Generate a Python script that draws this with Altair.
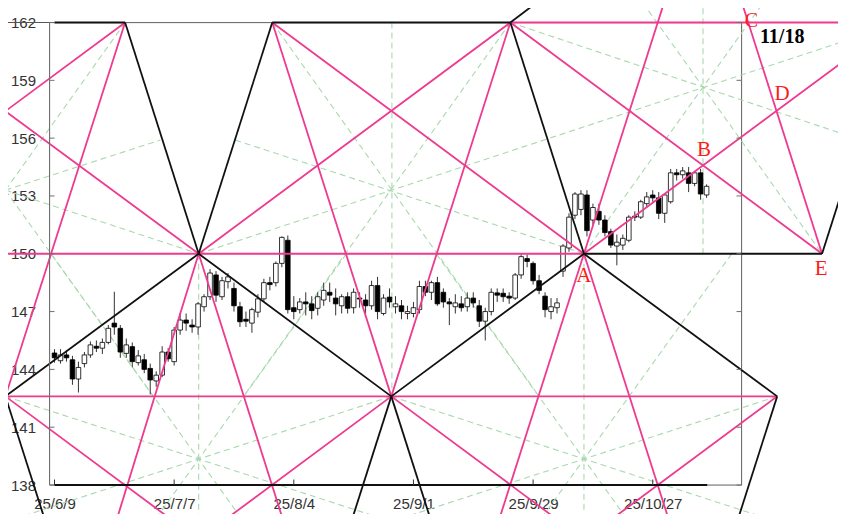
import altair as alt
import pandas as pd

# ---------------- candle data (daily, index 0 = 25/6/9, one step per trading day) ----------------
opens = [144.85, 144.45, 144.75, 144.5, 143.5, 144.3, 144.75, 145.2, 145.1, 145.4,
         146.4, 146.13, 144.83, 145.18, 144.35, 144.5, 144.05, 143.4, 143.7, 144.9,
         144.4, 146.04, 146.56, 146.3, 146.2, 147.25, 147.77, 148.9, 147.77, 148.55,
         148.2, 147.25, 146.6, 146.4, 146.97, 147.66, 148.5, 148.5, 149.5, 150.7,
         147.2, 147.1, 147.5, 147.4, 147.17, 147.6, 148.0, 147.7, 147.3, 147.77,
         147.2, 147.7, 147.6, 147.3, 148.35, 146.9, 147.75, 147.25, 147.3, 146.9,
         146.9, 147.1, 148.3, 148.0, 148.5, 148.0, 147.5, 147.25, 147.4, 147.25,
         147.7, 147.3, 146.5, 147.0, 147.97, 147.95, 147.8, 147.7, 148.9, 149.75,
         149.5, 148.6, 147.8, 147.0, 147.2, 149.1, 150.3, 152.0, 152.3, 153.05,
         151.75, 152.2, 151.75, 151.15, 150.4, 150.45, 150.7, 151.95, 151.9, 152.6,
         153.05, 152.9, 152.1, 152.7, 154.2, 154.1, 154.2, 153.65, 154.2, 153.05]
highs = [145.05, 145.05, 145.0, 144.7, 144.4, 144.9, 145.45, 145.5, 145.6, 146.3,
         148.03, 146.3, 145.6, 145.4, 145.0, 144.8, 144.3, 143.9, 145.2, 145.1,
         146.2, 146.9, 146.9, 146.6, 147.5, 147.9, 149.2, 149.1, 148.8, 149.0,
         148.5, 147.5, 147.0, 147.2, 147.9, 148.7, 148.8, 149.6, 150.9, 150.95,
         147.8, 147.7, 148.0, 147.8, 148.0, 148.5, 148.5, 148.2, 147.9, 148.0,
         148.2, 148.0, 147.9, 148.6, 148.8, 147.9, 148.2, 147.8, 147.6, 147.3,
         147.5, 148.6, 148.6, 148.6, 148.8, 148.2, 147.7, 147.9, 147.8, 148.0,
         148.0, 147.6, 147.2, 148.2, 148.2, 148.2, 148.0, 149.0, 150.0, 149.95,
         149.6, 148.9, 148.0, 147.7, 147.7, 150.5, 152.1, 153.2, 153.3, 153.3,
         152.6, 152.6, 152.0, 151.3, 151.0, 151.0, 152.0, 152.2, 152.8, 153.2,
         153.3, 153.2, 153.1, 154.4, 154.4, 154.5, 154.5, 154.3, 154.4, 153.6]
lows = [144.35, 144.3, 144.4, 143.2, 142.8, 144.1, 144.6, 144.9, 144.8, 145.3,
        145.8, 144.6, 144.6, 144.1, 144.2, 143.8, 142.7, 143.1, 143.6, 144.4,
        144.2, 145.8, 146.0, 145.9, 145.8, 147.0, 147.6, 147.5, 147.6, 148.2,
        147.0, 146.2, 146.2, 145.9, 146.7, 147.5, 148.1, 148.3, 149.3, 146.9,
        146.6, 146.9, 146.8, 146.6, 146.8, 147.3, 147.5, 146.8, 146.9, 146.9,
        146.9, 147.2, 146.9, 147.1, 146.6, 146.8, 147.2, 146.9, 146.6, 146.6,
        146.7, 146.9, 147.8, 147.6, 147.3, 147.2, 146.3, 146.9, 147.0, 147.0,
        147.2, 146.2, 145.5, 146.8, 147.5, 147.5, 147.4, 147.6, 148.7, 149.3,
        148.4, 147.9, 146.7, 146.6, 146.9, 148.8, 150.1, 151.8, 152.0, 150.9,
        151.5, 151.5, 150.9, 150.3, 149.4, 150.2, 150.6, 151.7, 151.8, 152.4,
        152.7, 151.8, 151.6, 152.6, 153.8, 153.9, 153.2, 153.5, 152.8, 152.9]
closes = [144.6, 144.75, 144.6, 143.5, 144.1, 144.75, 145.27, 145.1, 145.4, 146.13,
          146.2, 144.9, 145.27, 144.4, 144.7, 144.0, 143.45, 143.7, 144.9, 144.55,
          146.04, 146.56, 146.4, 146.2, 147.4, 147.77, 149.0, 147.85, 148.6, 148.8,
          147.3, 146.47, 146.5, 147.1, 147.66, 148.5, 148.4, 149.5, 150.85, 147.1,
          147.0, 147.5, 147.4, 147.05, 147.77, 148.1, 147.85, 147.4, 147.77, 147.17,
          148.0, 147.65, 147.3, 148.35, 147.0, 147.7, 147.5, 147.4, 147.0, 147.0,
          147.2, 148.3, 148.0, 148.5, 147.4, 147.5, 147.4, 147.45, 147.2, 147.7,
          147.45, 146.5, 147.0, 148.0, 147.85, 147.77, 147.7, 148.9, 149.85, 149.6,
          148.6, 148.1, 147.1, 147.25, 147.45, 150.4, 151.9, 153.1, 153.1, 151.2,
          152.4, 151.75, 151.1, 150.45, 150.6, 150.8, 151.9, 151.9, 152.7, 152.95,
          152.9, 152.1, 153.05, 154.2, 154.1, 154.3, 153.65, 154.2, 153.1, 153.5]

price_ticks = [138, 141, 144, 147, 150, 153, 156, 159, 162]
date_tick_days = [0, 20, 40, 60, 80, 100]
date_tick_labels = ["25/6/9", "25/7/7", "25/8/4", "25/9/1", "25/9/29", "25/10/27"]
x_domain = [0, 114]
y_domain = [138, 162]

# ---------------- Gann overlay, segments (day, price, day, price) ----------------
black_segments = [
    (-8.2, 142.6, 24.1, 150.0), (24.1, 150.0, 56.3, 142.6), (56.3, 142.6, 88.5, 150.0),
    (88.5, 150.0, 120.8, 142.6), (11.8, 162.0, 24.1, 150.0), (24.1, 150.0, 36.4, 162.0),
    (76.2, 162.0, 88.5, 150.0), (76.2, 162.0, 86.0, 164.3), (88.5, 150.0, 128.3, 150.0),
    (128.3, 150.0, 136.0, 157.5), (56.3, 142.6, 49.0, 135.5), (56.3, 142.6, 63.6, 135.5),
    (-8.2, 142.6, -0.9, 135.5), (120.8, 142.6, 113.5, 135.5), (0.0, 162.0, 11.8, 162.0),
    (36.4, 162.0, 76.2, 162.0), (0.0, 138.0, 109.1, 138.0),
]
thin_segments = [(-9.0, 162.0, 0.0, 162.0)]
pink_segments = [
    (76.2, 162.0, 140.0, 162.0), (-9.0, 150.0, 88.5, 150.0), (-8.2, 142.6, 120.8, 142.6),
    (-8.2, 157.4, 11.8, 162.0), (-8.2, 157.4, 24.1, 150.0), (11.8, 162.0, -8.2, 142.6),
    (24.1, 150.0, 9.7, 135.5), (24.1, 150.0, 38.9, 135.5), (24.1, 150.0, 76.2, 162.0),
    (36.4, 162.0, 88.5, 150.0), (36.4, 162.0, 56.3, 142.6), (76.2, 162.0, 56.3, 142.6),
    (76.2, 162.0, 128.3, 150.0), (88.5, 150.0, 103.2, 164.3), (88.5, 150.0, 140.0, 161.86),
    (128.3, 150.0, 113.6, 164.3), (88.5, 150.0, 73.6, 135.5), (88.5, 150.0, 103.4, 135.5),
    (-8.2, 142.6, 22.6, 135.5), (56.3, 142.6, 25.5, 135.5), (56.3, 142.6, 87.1, 135.5),
    (120.8, 142.6, 90.0, 135.5),
]
green_segments = [
    (-8.2, 162.0, -8.2, 142.6), (-8.2, 153.3, 11.8, 162.0), (-8.2, 153.3, 16.5, 142.6),
    (-8.2, 153.3, 17.7, 155.9), (-8.2, 153.3, 24.1, 150.0),
    (56.4, 162.0, 56.4, 142.6), (36.4, 162.0, 81.0, 142.6), (76.2, 162.0, 31.6, 142.6),
    (30.2, 155.9, 88.5, 150.0), (24.1, 150.0, 140.0, 161.85),
    (108.4, 164.3, 108.4, 150.0), (95.4, 164.3, 128.3, 150.0), (88.5, 150.0, 121.4, 164.3),
    (76.2, 162.0, 140.0, 155.36),
    (24.1, 150.0, 24.1, 135.5), (-8.2, 142.6, 62.3, 135.5), (56.3, 142.6, -14.0, 135.5),
    (-0.6, 150.0, 33.0, 135.5), (48.8, 150.0, 15.2, 135.5),
    (88.5, 150.0, 88.5, 135.5), (56.3, 142.6, 126.7, 135.5), (120.8, 142.6, 50.3, 135.5),
    (63.8, 150.0, 97.4, 135.5), (113.2, 150.0, 79.6, 135.5),
]

point_labels = ["A", "B", "C", "D", "E"]
point_days = [88.5, 108.3, 116.0, 120.7, 128.3]
point_prices = [150.0, 154.6, 162.0, 157.36, 150.0]
date_note = "11/18"

PINK = "#EE3A8F"
RED = "#FF1A1A"
FRAME = "#707070"

xs = alt.Scale(domain=x_domain, nice=False, zero=False)
ys = alt.Scale(domain=y_domain, nice=False, zero=False)

label_expr = "[" + ",".join("'%s'" % s for s in date_tick_labels) + "][indexof([" + \
    ",".join(str(d) for d in date_tick_days) + "], datum.value)]"
x_axis = alt.Axis(values=date_tick_days, labelExpr=label_expr, title=None, ticks=False,
                  domain=False, grid=False, labelPadding=11, labelFontSize=15,
                  labelFont="Liberation Sans", labelColor="#333333", labelFlush=False)
y_axis = alt.Axis(values=price_ticks, title=None, ticks=False, domain=False, grid=False,
                  labelPadding=14, labelFontSize=15, labelFont="Liberation Sans",
                  labelColor="#333333")

candles = pd.DataFrame({"day": list(range(len(closes))), "open": opens, "high": highs,
                        "low": lows, "close": closes})
candles["dir"] = ["up" if c >= o else "down" for o, c in zip(opens, closes)]

wicks = alt.Chart(candles).mark_rule(color="#333333", strokeWidth=1).encode(
    x=alt.X("day:Q", scale=xs, axis=x_axis),
    y=alt.Y("low:Q", scale=ys, axis=y_axis),
    y2="high:Q")
bodies = alt.Chart(candles).mark_bar(size=4.6, stroke="#000000", strokeWidth=0.8).encode(
    x=alt.X("day:Q", scale=xs, axis=x_axis),
    y=alt.Y("open:Q", scale=ys, axis=y_axis),
    y2="close:Q",
    fill=alt.Fill("dir:N", scale=alt.Scale(domain=["up", "down"], range=["#ffffff", "#000000"]),
                  legend=None))


def seg_layer(segs, color, width, dash=None):
    df = pd.DataFrame(segs, columns=["t1", "p1", "t2", "p2"])
    kw = dict(color=color, strokeWidth=width, clip=False)
    if dash:
        kw["strokeDash"] = dash
    return alt.Chart(df).mark_rule(**kw).encode(
        x=alt.X("t1:Q", scale=xs, axis=x_axis), y=alt.Y("p1:Q", scale=ys, axis=y_axis),
        x2="t2:Q", y2="p2:Q")


green = seg_layer(green_segments, "#A9D9AE", 1.1, [6, 4])
pink = seg_layer(pink_segments, PINK, 1.8)
black = seg_layer(black_segments, "#111111", 1.8)
thin = seg_layer(thin_segments, "#555555", 1)

# plot frame (left axis line, right and top border)
frame_left = alt.Chart(pd.DataFrame({"v": [0]})).mark_rule(color=FRAME, strokeWidth=1).encode(
    x=alt.value(0), y=alt.value(0), y2=alt.value(462.5))
frame_right = alt.Chart(pd.DataFrame({"v": [0]})).mark_rule(color=FRAME, strokeWidth=1).encode(
    x=alt.value(692), y=alt.value(0), y2=alt.value(462.5))
frame_top = alt.Chart(pd.DataFrame({"v": [0]})).mark_rule(color=FRAME, strokeWidth=1).encode(
    x=alt.value(0), x2=alt.value(692), y=alt.value(0))
frame_bottom = alt.Chart(pd.DataFrame({"v": [0]})).mark_rule(color=FRAME, strokeWidth=1).encode(
    x=alt.value(0), x2=alt.value(692), y=alt.value(462.5))

ptick_df = pd.DataFrame({"p": price_ticks})
dtick_df = pd.DataFrame({"d": date_tick_days})
left_ticks = alt.Chart(ptick_df).mark_rule(color=FRAME, strokeWidth=1).encode(
    y=alt.Y("p:Q", scale=ys, axis=y_axis), x=alt.value(0), x2=alt.value(5))
right_ticks = alt.Chart(ptick_df).mark_rule(color=FRAME, strokeWidth=1).encode(
    y=alt.Y("p:Q", scale=ys, axis=y_axis), x=alt.value(687), x2=alt.value(692))
bottom_ticks = alt.Chart(dtick_df).mark_rule(color="#333333", strokeWidth=1).encode(
    x=alt.X("d:Q", scale=xs, axis=x_axis), y=alt.value(462.5), y2=alt.value(457))

pts = pd.DataFrame({"lab": point_labels, "t": point_days, "p": point_prices})
label_offsets = {"A": (0, 22, 21), "B": (1.5, -15, 21), "C": (3, -2, 20),
                 "D": (5.5, -18, 21), "E": (-1, 15, 21)}
text_layers = []
for lab in point_labels:
    dx, dy, fs = label_offsets[lab]
    text_layers.append(
        alt.Chart(pts[pts.lab == lab]).mark_text(
            font="Liberation Serif", fontSize=fs, color=RED, dx=dx, dy=dy,
            baseline="middle", align="center", clip=False).encode(
            x=alt.X("t:Q", scale=xs, axis=x_axis), y=alt.Y("p:Q", scale=ys, axis=y_axis),
            text="lab:N"))
note_df = pd.DataFrame({"t": [point_days[2]], "p": [point_prices[2]], "txt": [date_note]})
note = alt.Chart(note_df).mark_text(
    font="Liberation Serif", fontSize=20, fontWeight="bold", color="#000000",
    dx=11.5, dy=14, align="left", baseline="middle", clip=False).encode(
    x=alt.X("t:Q", scale=xs, axis=x_axis), y=alt.Y("p:Q", scale=ys, axis=y_axis), text="txt:N")

chart = alt.layer(
    frame_top, frame_right, frame_bottom, green, wicks, bodies, pink, thin, black, frame_left,
    left_ticks, right_ticks, bottom_ticks, *text_layers, note
).properties(
    width=692, height=462.5,
    padding={"left": 41.5, "top": 14.5, "right": 96.5, "bottom": 29},
    autosize=alt.AutoSizeParams(type="none"),
).configure_view(stroke=None).configure(background="#ffffff")

chart.save("out.html", embed_options={"renderer": "svg", "actions": False})
